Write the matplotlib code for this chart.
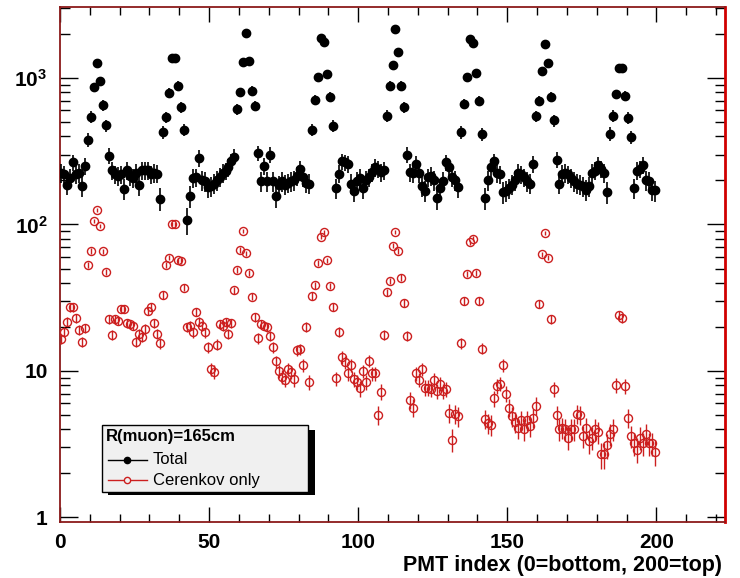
import numpy as np
import matplotlib
matplotlib.use("Agg")
import matplotlib.pyplot as plt
from matplotlib.lines import Line2D
from matplotlib.patches import Rectangle
from matplotlib.ticker import FixedLocator, FixedFormatter, LogLocator, MultipleLocator, NullFormatter

plt.rcParams["font.family"] = ["Liberation Sans", "DejaVu Sans"]
plt.rcParams["mathtext.fontset"] = "custom"
plt.rcParams["mathtext.bf"] = "Liberation Sans:bold"
plt.rcParams["mathtext.rm"] = "Liberation Sans"

# PMT index 0..199, plotted at bin centres
pmt_index = np.arange(200)

total = [
    225, 220, 187, 208, 265, 220, 225, 182, 250, 379,
    545, 865, 1260, 955, 652, 474, 294, 234, 220, 215,
    220, 175, 234, 215, 207, 225, 185, 235, 235, 234,
    220, 225, 222, 150, 425, 540, 795, 1375, 1375, 887,
    631, 443, 107, 156, 208, 210, 284, 200, 197, 180,
    182, 190, 200, 212, 225, 232, 245, 270, 290, 615,
    797, 1291, 2031, 1306, 818, 645, 307, 197, 250, 197,
    300, 197, 156, 185, 197, 187, 193, 197, 200, 215,
    240, 210, 193, 190, 443, 708, 1010, 1860, 1765, 1064,
    739, 471, 177, 222, 270, 265, 260, 190, 170, 197,
    208, 177, 200, 210, 228, 245, 240, 228, 235, 551,
    883, 1226, 2143, 1509, 883, 631, 299, 228, 225, 260,
    225, 182, 170, 210, 215, 200, 152, 177, 197, 265,
    245, 210, 200, 180, 425, 665, 1010, 1834, 1740, 1086,
    701, 414, 152, 200, 245, 270, 225, 220, 166, 170,
    177, 187, 200, 225, 220, 210, 197, 190, 260, 546,
    701, 1117, 1694, 1260, 740, 513, 277, 190, 222, 225,
    220, 208, 197, 190, 187, 182, 173, 182, 225, 233,
    255, 240, 225, 166, 416, 550, 774, 1164, 1164, 758,
    532, 394, 177, 233, 240, 255, 200, 197, 173, 171,
]

cerenkov = [
    16.5, 18.5, 21.7, 27.1, 27.1, 22.9, 19.1, 15.8, 19.5, 52.6,
    65.9, 105, 126, 97.5, 65.5, 47.4, 22.6, 17.7, 22.6, 22.0,
    26.4, 26.4, 21.2, 20.8, 20.4, 15.8, 18.0, 17.1, 19.3, 25.7,
    27.5, 21.2, 18.0, 15.5, 33.0, 53.2, 59.3, 101, 100, 56.9,
    56.4, 37.0, 19.8, 20.3, 18.3, 25.3, 21.7, 20.3, 18.3, 14.5,
    10.3, 9.9, 15.1, 20.8, 20.3, 21.5, 18.0, 21.2, 35.6, 48.9,
    66.9, 90.2, 63.5, 46.5, 32.2, 23.2, 16.7, 20.8, 20.4, 19.8,
    17.4, 14.5, 11.6, 10.0, 9.1, 8.7, 10.3, 9.8, 8.8, 13.9,
    14.0, 11.0, 20.0, 8.4, 32.5, 38.5, 54.8, 82.4, 88.7, 56.9,
    38.0, 27.5, 8.9, 18.5, 12.4, 11.5, 9.6, 11.0, 8.8, 8.4,
    7.6, 10.0, 8.4, 11.7, 9.6, 9.6, 5.0, 7.2, 17.6, 34.3,
    41.1, 71.3, 89.1, 65.9, 43.4, 29.0, 17.4, 6.3, 5.6, 9.6,
    8.7, 10.3, 7.7, 7.7, 7.5, 8.7, 7.3, 8.2, 7.3, 7.5,
    5.2, 3.4, 5.1, 4.9, 15.5, 30.1, 45.7, 75.8, 79.8, 46.5,
    30.1, 14.2, 4.7, 4.4, 4.3, 6.5, 7.9, 8.2, 10.9, 7.0,
    5.6, 4.9, 4.5, 4.1, 4.6, 4.0, 4.6, 4.2, 4.8, 5.8,
    28.6, 62.5, 87.7, 59.3, 22.6, 7.5, 5.0, 4.0, 4.1, 4.0,
    3.5, 4.0, 4.0, 5.1, 5.0, 3.6, 4.1, 3.3, 3.5, 4.0,
    3.8, 2.7, 2.7, 3.1, 3.7, 4.0, 8.0, 24.0, 22.8, 7.9,
    4.8, 3.6, 3.2, 2.9, 3.5, 3.2, 3.7, 3.2, 3.2, 2.8,
]

legend_title = "R(muon)=165cm"
legend_labels = ["Total", "Cerenkov only"]
x_ticks = [0, 50, 100, 150, 200]
y_ticks = [1, 10, 100, 1000]
y_ticklabels = ["1", "10", r"$\mathbf{10^{2}}$", r"$\mathbf{10^{3}}$"]

total = np.array(total, dtype=float)
cerenkov = np.array(cerenkov, dtype=float)
# poisson-like error bars
total_err = np.sqrt(4.5 * total)
cer_err = np.sqrt(0.11 * cerenkov)

red = "#cc1f1f"
frame = "#8b1a1a"

fig = plt.figure(figsize=(7.4, 5.78), dpi=100)
ax = fig.add_axes([60 / 740, 56 / 578, 665 / 740, 515 / 578])

xc = pmt_index + 0.5
ax.errorbar(xc, total, yerr=total_err, fmt="o", color="black", ms=6.0,
            elinewidth=1.2, capsize=0, zorder=3)
ax.errorbar(xc, cerenkov, yerr=cer_err, fmt="o", color=red, mfc="none",
            mec=red, ecolor=red, ms=5.8, mew=1.0, elinewidth=1.0,
            capsize=0, zorder=4)

ax.set_yscale("log")
ax.set_xlim(0, 223)
ax.set_ylim(0.93, 3050)

ax.xaxis.set_major_locator(FixedLocator(x_ticks))
ax.xaxis.set_minor_locator(MultipleLocator(10))
ax.yaxis.set_major_locator(FixedLocator(y_ticks))
ax.yaxis.set_major_formatter(FixedFormatter(y_ticklabels))
ax.yaxis.set_minor_locator(LogLocator(base=10, subs=np.arange(2, 10)))
ax.yaxis.set_minor_formatter(NullFormatter())

ax.tick_params(axis="both", which="both", direction="in", top=True, right=True,
               color="black", width=1.0)
ax.tick_params(axis="x", which="major", length=11, pad=8,
               labelsize=15)
ax.tick_params(axis="x", which="minor", length=6)
ax.tick_params(axis="y", which="major", length=13, pad=9, labelsize=15)
ax.tick_params(axis="y", which="minor", length=7)
for lab in ax.get_xticklabels() + ax.get_yticklabels():
    lab.set_fontweight("bold")

for side in ["left", "bottom", "top"]:
    ax.spines[side].set_color(frame)
    ax.spines[side].set_linewidth(1.3)
ax.spines["right"].set_color("#d00000")
ax.spines["right"].set_linewidth(2.0)

ax.set_xlabel("PMT index (0=bottom, 200=top)", fontsize=15.5, fontweight="bold",
              ha="right")
ax.xaxis.set_label_coords(0.995, -0.064)


# legend box drawn ROOT style, pixel positions converted to figure fraction
def fx(px):
    return px / 740


def fy(py):
    return 1 - py / 578


shadow = Rectangle((fx(108), fy(495)), fx(315) - fx(108), fy(430) - fy(495),
                   transform=fig.transFigure, facecolor="black",
                   edgecolor="none", zorder=10)
box = Rectangle((fx(102), fy(492)), fx(308) - fx(102), fy(425) - fy(492),
                transform=fig.transFigure, facecolor="#f0f0f0",
                edgecolor="black", linewidth=1.0, zorder=11)
fig.add_artist(shadow)
fig.add_artist(box)

fig.text(fx(106), fy(437), legend_title, fontsize=12, fontweight="bold",
         va="center", ha="left", zorder=12)
fig.add_artist(Line2D([fx(108), fx(147)], [fy(460), fy(460)], color="black",
                      lw=1.0, transform=fig.transFigure, zorder=12))
fig.add_artist(Line2D([fx(127.5)], [fy(460)], color="black", marker="o", ms=4.5,
                      transform=fig.transFigure, zorder=13))
fig.add_artist(Line2D([fx(108), fx(147)], [fy(480), fy(480)], color=red,
                      lw=1.0, transform=fig.transFigure, zorder=12))
fig.add_artist(Line2D([fx(127.5)], [fy(480)], color=red, marker="o", ms=4.5,
                      mfc="#f0f0f0", mec=red, mew=1.0,
                      transform=fig.transFigure, zorder=13))
fig.text(fx(153), fy(460), legend_labels[0], fontsize=12, va="center",
         ha="left", zorder=12)
fig.text(fx(153), fy(480), legend_labels[1], fontsize=12, va="center",
         ha="left", zorder=12)

fig.savefig("out.png", dpi=100)
